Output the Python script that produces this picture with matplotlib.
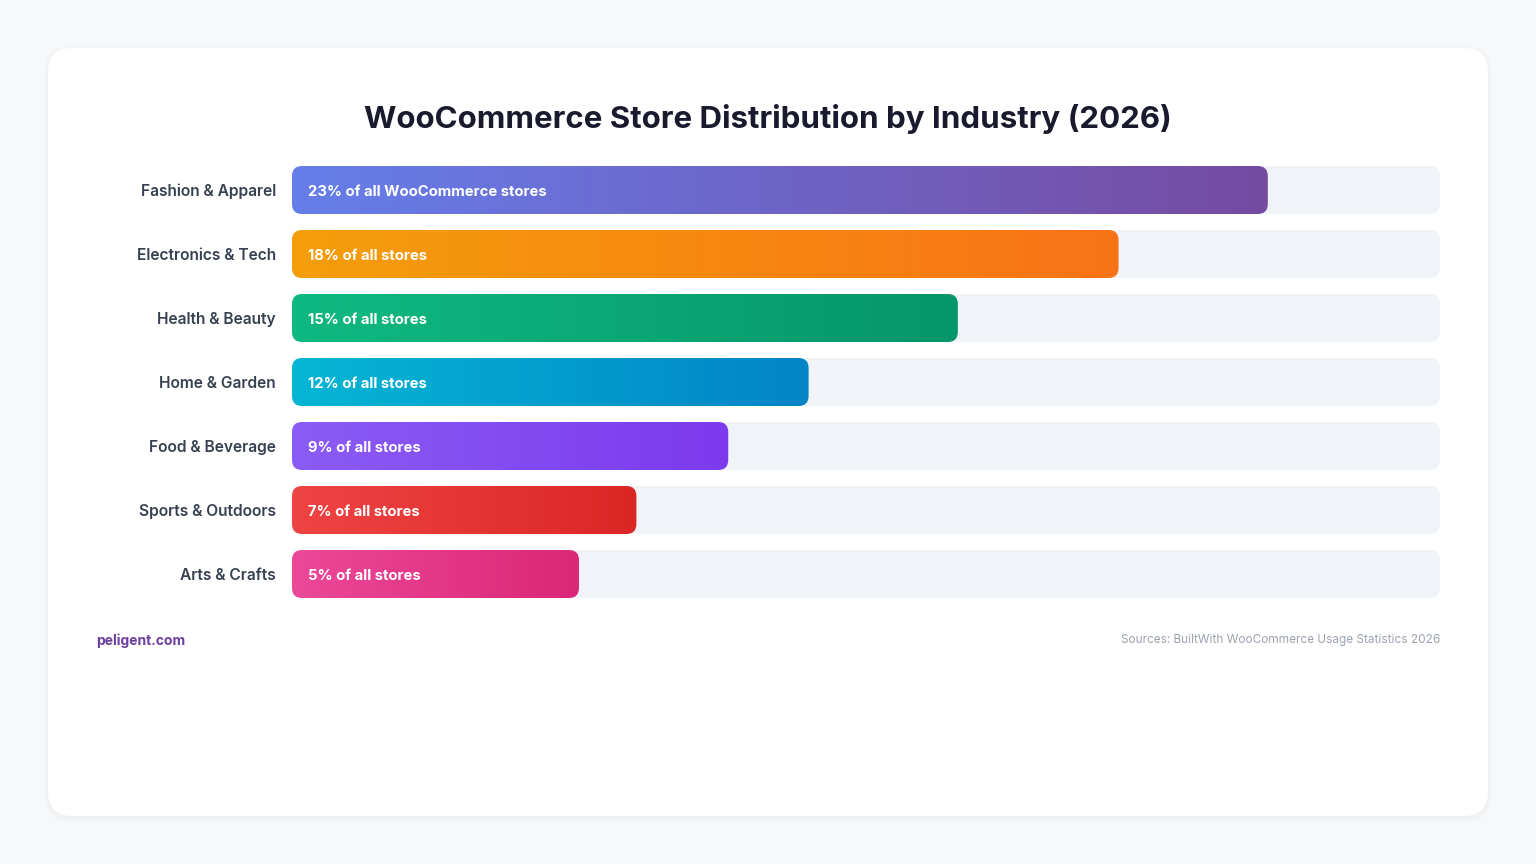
import numpy as np
import matplotlib.pyplot as plt
from matplotlib.patches import FancyBboxPatch
from matplotlib.colors import LinearSegmentedColormap

plt.rcParams['font.family'] = ['Inter', 'DejaVu Sans']

# data
industries = ['Fashion & Apparel', 'Electronics & Tech', 'Health & Beauty', 'Home & Garden',
              'Food & Beverage', 'Sports & Outdoors', 'Arts & Crafts']
bar_width = [85, 72, 58, 45, 38, 30, 25]   # percent of the track
bar_text = ['23% of all WooCommerce stores', '18% of all stores', '15% of all stores',
            '12% of all stores', '9% of all stores', '7% of all stores', '5% of all stores']
grad_start = ['#667eea', '#f59e0b', '#10b981', '#06b6d4', '#8b5cf6', '#ef4444', '#ec4899']
grad_end = ['#764ba2', '#f97316', '#059669', '#0284c7', '#7c3aed', '#dc2626', '#db2777']

W, H = 1536, 864
fig = plt.figure(figsize=(W / 100, H / 100), dpi=100)
fig.patch.set_facecolor('#f7f8fa')

# background card
bg = fig.add_axes([0, 0, 1, 1])
bg.set_xlim(0, W)
bg.set_ylim(H, 0)
bg.axis('off')
for i, a in enumerate([0.012, 0.012, 0.012]):
    bg.add_patch(FancyBboxPatch((48 - i * 2, 50 - i * 2), 1440 + i * 4, 768 + i * 4,
                                boxstyle='round,pad=0,rounding_size=26',
                                fc='#000000', ec='none', alpha=a))
bg.add_patch(FancyBboxPatch((48, 48), 1440, 768, boxstyle='round,pad=0,rounding_size=24',
                            fc='white', ec='none'))
bg.text(768, 116, 'WooCommerce Store Distribution by Industry (2026)', ha='center',
        va='center_baseline', fontsize=22.5, fontweight='bold', color='#1a1a2e')
bg.text(96, 639, 'peligent.com', ha='left', va='center_baseline', fontsize=10,
        fontweight='bold', color='#6b3fa0')
bg.text(1440, 638, 'Sources: BuiltWith WooCommerce Usage Statistics 2026', ha='right',
        va='center_baseline', fontsize=8.5, color='#9ca3af')

# bars
left, right, top, bottom = 292, 1440, 166, 598
ax = fig.add_axes([left / W, 1 - bottom / H, (right - left) / W, (bottom - top) / H])
ax.set_xlim(0, 100)
ax.set_ylim(len(industries) - 1 + 0.375, -0.375)
ax.axis('off')

px_x = (right - left) / 100.0
px_y = (bottom - top) / (len(industries) - 0.25)
aspect = px_x / px_y
r = 10 / px_x
h = 0.75

for i, name in enumerate(industries):
    y0 = i - h / 2
    ax.add_patch(FancyBboxPatch((0, y0), 100, h, boxstyle=f'round,pad=0,rounding_size={r}',
                                mutation_aspect=aspect, fc='#f0f3f8', ec='none'))
    clip = FancyBboxPatch((0, y0), bar_width[i], h, boxstyle=f'round,pad=0,rounding_size={r}',
                          mutation_aspect=aspect, fc='none', ec='none')
    ax.add_patch(clip)
    cmap = LinearSegmentedColormap.from_list('g', [grad_start[i], grad_end[i]])
    im = ax.imshow(np.linspace(0, 1, 256).reshape(1, -1), cmap=cmap, aspect='auto',
                   extent=(0, bar_width[i], y0 + h, y0), interpolation='bilinear', zorder=2)
    im.set_clip_path(clip)
    ax.text(16 / px_x, i, bar_text[i], ha='left', va='center_baseline', fontsize=10.7,
            fontweight='bold', color='white', zorder=3)
    ax.text(-16 / px_x, i, name, ha='right', va='center_baseline', fontsize=11.2,
            fontweight='semibold', color='#374151', clip_on=False)

ax.set_xlim(0, 100)
ax.set_ylim(len(industries) - 1 + 0.375, -0.375)

fig.savefig('out.png', dpi=100, facecolor=fig.get_facecolor())
